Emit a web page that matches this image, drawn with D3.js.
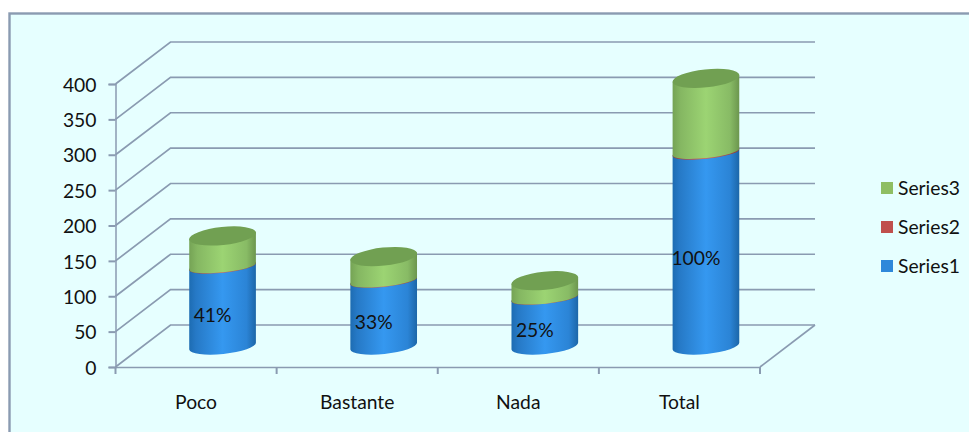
<!DOCTYPE html>
<html>
<head>
<meta charset="utf-8">
<script src="https://cdn.jsdelivr.net/npm/d3@7"></script>
<style>
html,body{margin:0;padding:0;background:#fff;overflow:hidden}
svg{display:block}
text{font-family:Lato,sans-serif;fill:#111}
</style>
</head>
<body>
<svg id="c" width="969" height="432"></svg>
<script>
const categories = ["Poco", "Bastante", "Nada", "Total"];
const series1 = [112, 92, 68, 273];
const series2 = [0.5, 0.4, 0.3, 1.2];
const series3 = [43, 34, 24, 104];
const pctLabels = ["41%", "33%", "25%", "100%"];
const yTicks = [0, 50, 100, 150, 200, 250, 300, 350, 400];
const seriesNames = ["Series1", "Series2", "Series3"];
const legendColors = ["#2e88da", "#c0504d", "#8fbe63"];

const svg = d3.select("#c");
const lineCol = "#8a9bb1";
const depthX = 55, depthY = 42;
const fontPx = "19.3px";

// frame
svg.append("rect").attr("x", 9.5).attr("y", 13.5).attr("width", 975).attr("height", 440)
  .attr("fill", "#e6ffff").attr("stroke", lineCol).attr("stroke-width", 2.4);

const x = d3.scaleBand().domain(categories).range([115.5, 760]).padding(0);
const y = d3.scaleLinear().domain([0, 400]).range([367, 84]);

// 3D projection helpers
const px = (v, d) => v + depthX * d;
const py = (v, d) => v - depthY * d;

// walls and floor gridlines
const grid = svg.append("g").attr("fill", "none").attr("stroke", lineCol).attr("stroke-width", 1.7);
grid.selectAll("path").data(yTicks).join("path")
  .attr("d", t => d3.line()([
    [x.range()[0], y(t)],
    [px(x.range()[0], 1), py(y(t), 1)],
    [px(x.range()[1], 1), py(y(t), 1)]
  ]));
grid.append("path").attr("d", d3.line()([
  [x.range()[1], y(0)], [px(x.range()[1], 1), py(y(0), 1)]
]));

// y axis
const yAxis = d3.axisLeft(y).tickValues(yTicks).tickSize(7).tickPadding(12);
const gy = svg.append("g").attr("transform", `translate(${x.range()[0]},0)`).call(yAxis);
gy.select(".domain").attr("stroke", lineCol).attr("stroke-width", 1.5);
gy.selectAll(".tick line").attr("stroke", lineCol).attr("stroke-width", 2);
gy.selectAll(".tick text").attr("fill", "#111").attr("y", 1)
  .style("font-family", "Lato,sans-serif").style("font-size", fontPx);

// x axis
const xAxis = d3.axisBottom(x).tickSize(0).tickPadding(28);
const gx = svg.append("g").attr("transform", `translate(0,${y(0)})`).call(xAxis);
gx.select(".domain").attr("stroke", lineCol).attr("stroke-width", 1.5);
gx.selectAll(".tick text").attr("fill", "#111")
  .style("font-family", "Lato,sans-serif").style("font-size", fontPx);
gx.selectAll("line.edge")
  .data(categories.map(c => x(c)).concat(x.range()[1]))
  .join("line").attr("class", "edge")
  .attr("x1", d => d).attr("x2", d => d).attr("y1", 0).attr("y2", 7)
  .attr("stroke", lineCol).attr("stroke-width", 2);

// gradients
const defs = svg.append("defs");
function grad(id, stops) {
  const g = defs.append("linearGradient").attr("id", id)
    .attr("x1", 0).attr("x2", 1).attr("y1", 0).attr("y2", 0);
  stops.forEach(s => g.append("stop").attr("offset", s[0]).attr("stop-color", s[1]));
}
grad("g0", [[0, "#1d6cb2"], [0.1, "#2679c6"], [0.5, "#3598f0"], [0.86, "#2b84d6"], [1, "#1c66a8"]]);
grad("g1", [[0, "#963e3c"], [0.5, "#d06360"], [1, "#8e3b39"]]);
grad("g2", [[0, "#75a355"], [0.12, "#85b762"], [0.5, "#9cd473"], [0.86, "#88bb65"], [1, "#6c964e"]]);

// stacked cylinders
const table = categories.map((c, i) => ({ c, i, s0: series1[i], s1: series2[i], s2: series3[i] }));
const stacked = d3.stack().keys(["s0", "s1", "s2"])(table);
const barW = x.bandwidth() * 0.416;
const rx = barW / 2, ry = 9, tilt = -6;
const dxE = rx * Math.cos(tilt * Math.PI / 180), dyE = rx * Math.sin(tilt * Math.PI / 180);

function body(cx, yBottom, yTop, ryB) {
  return `M${cx - dxE},${yTop - dyE}` +
    `L${cx - dxE},${yBottom - dyE}` +
    `A${rx},${ryB} ${tilt} 0 0 ${cx + dxE},${yBottom + dyE}` +
    `L${cx + dxE},${yTop + dyE}` +
    `A${rx},${ryB} ${tilt} 0 0 ${cx - dxE},${yTop - dyE}Z`;
}
const cxOf = c => px(x(c) + x.bandwidth() / 2, 0.5) - 1;
const cyOf = v => py(y(v), 0.5);

const bars = svg.append("g");
stacked.forEach((layer, k) => {
  bars.selectAll(null).data(layer).join("path")
    .attr("d", d => body(cxOf(d.data.c), cyOf(d[0]), cyOf(d[1]), d[0] === 0 ? 8 : 6))
    .attr("fill", `url(#g${k})`);
});
bars.selectAll("ellipse").data(stacked[2]).join("ellipse")
  .attr("rx", rx).attr("ry", ry)
  .attr("transform", d => `translate(${cxOf(d.data.c)},${cyOf(d[1])}) rotate(${tilt})`)
  .attr("fill", "#71a052");

// data labels
svg.append("g").selectAll("text").data(stacked[0]).join("text")
  .attr("x", d => cxOf(d.data.c) - 10)
  .attr("y", d => (cyOf(d[0]) + cyOf(d[1])) / 2 + 8.5)
  .attr("dy", "0.35em").attr("text-anchor", "middle")
  .style("font-size", fontPx)
  .text((d, i) => pctLabels[i]);

// legend
const legY = d3.scalePoint().domain(["Series3", "Series2", "Series1"]).range([188, 266]);
const leg = svg.append("g").selectAll("g").data(seriesNames).join("g")
  .attr("transform", d => `translate(881,${legY(d)})`);
leg.append("rect").attr("x", 0).attr("y", -6).attr("width", 12).attr("height", 12)
  .attr("fill", (d, i) => legendColors[i]);
leg.append("text").attr("x", 17).attr("dy", "0.35em").style("font-size", fontPx).text(d => d);
</script>
</body>
</html>
